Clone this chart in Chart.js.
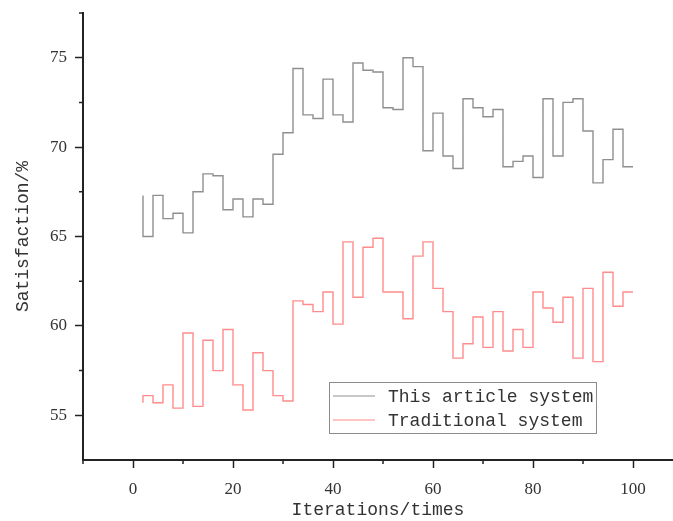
<!DOCTYPE html>
<html>
<head>
<meta charset="utf-8">
<script src="https://cdn.jsdelivr.net/npm/chart.js@4/dist/chart.umd.min.js"></script>
<style>
  body { margin: 0; background: #fff; }
  #wrap { width: 673px; height: 521px; position: relative; }
</style>
</head>
<body>
<div id="wrap"><canvas id="satChart"></canvas></div>
<script>
var iterations = [2, 4, 6, 8, 10, 12, 14, 16, 18, 20, 22, 24, 26, 28, 30, 32, 34, 36, 38, 40,
    42, 44, 46, 48, 50, 52, 54, 56, 58, 60, 62, 64, 66, 68, 70, 72, 74, 76, 78, 80,
    82, 84, 86, 88, 90, 92, 94, 96, 98, 100];
var thisSystem = [67.3, 65.0, 67.3, 66.0, 66.3, 65.2, 67.5, 68.5, 68.4, 66.5, 67.1, 66.1, 67.1, 66.8,
    69.6, 70.8, 74.4, 71.8, 71.6, 73.8, 71.8, 71.4, 74.7, 74.3, 74.2, 72.2, 72.1, 75.0, 74.5, 69.8,
    71.9, 69.5, 68.8, 72.7, 72.2, 71.7, 72.1, 68.9, 69.2, 69.5, 68.3, 72.7, 69.5, 72.5, 72.7, 70.9,
    68.0, 69.3, 71.0, 68.9];
var traditional = [55.7, 56.1, 55.7, 56.7, 55.4, 59.6, 55.5, 59.2, 57.5, 59.8, 56.7, 55.3, 58.5, 57.5,
    56.1, 55.8, 61.4, 61.2, 60.8, 61.9, 60.1, 64.7, 61.6, 64.4, 64.9, 61.9, 61.9, 60.4, 63.9, 64.7,
    62.1, 60.8, 58.2, 59.0, 60.5, 58.8, 60.8, 58.6, 59.8, 58.8, 61.9, 61.0, 60.2, 61.6, 58.2, 62.1,
    58.0, 63.0, 61.1, 61.9];
var seriesNames = ['This article system', 'Traditional system'];
var xTicks = [0, 20, 40, 60, 80, 100];
var xMinor = [-10, 10, 30, 50, 70, 90];
var yTicks = [55, 60, 65, 70, 75];
var yMinor = [57.5, 62.5, 67.5, 72.5, 77.5];

function toPoints(vals) {
    return vals.map(function(v, i) { return { x: iterations[i], y: v }; });
}

var axisColor = '#222';
var textColor = '#333';

// minor ticks + legend box drawn by hand
var extras = {
    id: 'extras',
    afterDraw: function(chart) {
        var c = chart.ctx;
        var xs = chart.scales.x, ys = chart.scales.y;
        c.save();
        c.strokeStyle = axisColor;
        c.lineWidth = 1.5;
        c.beginPath();
        xMinor.forEach(function(v) {
            var px = xs.getPixelForValue(v);
            c.moveTo(px, ys.bottom);
            c.lineTo(px, ys.bottom + 4);
        });
        yMinor.forEach(function(v) {
            var py = ys.getPixelForValue(v);
            c.moveTo(xs.left, py);
            c.lineTo(xs.left - 4, py);
        });
        c.stroke();

        // legend
        c.fillStyle = '#fff';
        c.fillRect(329.5, 382.5, 267, 51);
        c.strokeStyle = '#8c8c8c';
        c.lineWidth = 1;
        c.strokeRect(329.5, 382.5, 267, 51);
        c.font = '18px "Liberation Mono"';
        c.textBaseline = 'middle';
        var rows = [396, 420];
        chart.data.datasets.forEach(function(ds, i) {
            c.strokeStyle = ds.borderColor;
            c.lineWidth = 1.2;
            c.beginPath();
            c.moveTo(333, rows[i]);
            c.lineTo(375, rows[i]);
            c.stroke();
            c.fillStyle = textColor;
            c.fillText(ds.label, 388, rows[i] + 1);
        });
        c.restore();
    }
};

var ctx = document.getElementById('satChart').getContext('2d');
var satChart = new Chart(ctx, {
    type: 'line',
    data: {
        datasets: [
            {
                label: seriesNames[0],
                data: toPoints(thisSystem),
                borderColor: '#8f8f8f',
                borderWidth: 1.4,
                stepped: 'after',
                pointRadius: 0,
                fill: false
            },
            {
                label: seriesNames[1],
                data: toPoints(traditional),
                borderColor: '#ff8c8c',
                borderWidth: 1.4,
                stepped: 'after',
                pointRadius: 0,
                fill: false
            }
        ]
    },
    options: {
        responsive: true,
        maintainAspectRatio: false,
        animation: false,
        layout: { padding: { top: 13, right: 0, left: 0, bottom: 0 } },
        plugins: {
            legend: { display: false },
            tooltip: { enabled: false }
        },
        scales: {
            x: {
                type: 'linear',
                min: -10,
                max: 108,
                afterBuildTicks: function(scale) {
                    scale.ticks = xTicks.map(function(v) { return { value: v }; });
                },
                afterFit: function(scale) {
                    scale.height = 61;
                    scale.paddingLeft = 0;
                    scale.paddingRight = 0;
                },
                grid: { drawOnChartArea: false, tickLength: 8, tickColor: axisColor, tickWidth: 1.5 },
                border: { color: axisColor, width: 2 },
                ticks: {
                    color: textColor,
                    padding: 11,
                    maxRotation: 0,
                    font: { family: 'Liberation Serif', size: 17 }
                },
                title: {
                    display: true,
                    text: 'Iterations/times',
                    color: textColor,
                    padding: { top: 0, bottom: 0 },
                    font: { family: 'Liberation Mono', size: 18 }
                }
            },
            y: {
                min: 52.5,
                max: 77.5,
                afterBuildTicks: function(scale) {
                    scale.ticks = yTicks.map(function(v) { return { value: v }; });
                },
                afterFit: function(scale) {
                    scale.width = 83;
                    scale.paddingTop = 0;
                    scale.paddingBottom = 0;
                },
                grid: { drawOnChartArea: false, tickLength: 8, tickColor: axisColor, tickWidth: 1.5 },
                border: { color: axisColor, width: 2 },
                ticks: {
                    color: textColor,
                    padding: 8,
                    font: { family: 'Liberation Serif', size: 17 }
                },
                title: {
                    display: true,
                    text: 'Satisfaction/%',
                    color: textColor,
                    padding: { top: 12, bottom: 0 },
                    font: { family: 'Liberation Mono', size: 18 }
                }
            }
        }
    },
    plugins: [extras]
});
</script>
</body>
</html>
